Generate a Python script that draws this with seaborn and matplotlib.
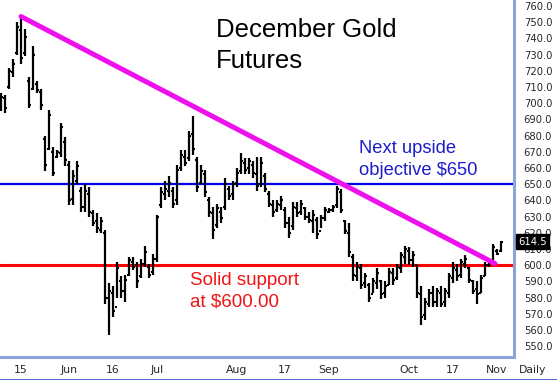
import numpy as np
import pandas as pd
import matplotlib
matplotlib.use("Agg")
import matplotlib.pyplot as plt
import seaborn as sns

# December gold futures, daily bars (May - Nov 2006)
holidays = ["2006-05-29", "2006-07-04", "2006-09-04"]

high = [706, 705, 722, 727, 750, 753, 746, 716, 735, 714, 709, 680, 696, 673, 671, 688,
        679, 664, 659, 664, 648, 650, 648, 634, 632, 630, 622, 589, 587, 602, 593, 594,
        605, 605, 602, 604, 612, 601, 607, 631, 648, 652, 655, 648, 662, 671, 671, 683,
        692, 667, 662, 659, 642, 636, 638, 636, 654, 649, 652, 660, 669, 666, 666, 664,
        667, 667, 657, 646, 640, 640, 643, 636, 630, 639, 639, 640, 636, 633, 634, 630,
        631, 636, 635, 637, 649, 647, 628, 626, 607, 602, 601, 595, 589, 592, 598, 591,
        590, 598, 598, 601, 608, 612, 611, 609, 600, 587, 580, 585, 587, 586, 587, 586,
        595, 602, 601, 604, 606, 599, 591, 590, 594, 602, 604, 613, 610, 615]
low = [695, 694, 709, 716, 730, 724, 729, 697, 708, 706, 696, 658, 671, 655, 666, 667,
       661, 637, 637, 650, 633, 633, 630, 624, 620, 620, 576, 557, 568, 580, 580, 577,
       593, 597, 586, 592, 599, 592, 594, 602, 635, 640, 642, 635, 637, 658, 661, 664,
       668, 645, 650, 642, 630, 616, 623, 626, 634, 640, 640, 648, 656, 656, 656, 654,
       646, 648, 645, 636, 630, 633, 634, 623, 617, 622, 630, 631, 628, 626, 620, 616,
       623, 627, 632, 633, 635, 632, 619, 605, 590, 590, 585, 586, 577, 583, 585, 579,
       580, 588, 588, 591, 595, 601, 600, 599, 580, 563, 566, 574, 574, 574, 574, 574,
       580, 589, 590, 592, 598, 589, 582, 576, 583, 593, 599, 601, 606, 608]
opens = [697, 703, 710, 719, 731, 745, 731, 714, 709, 712, 707, 678, 672, 670, 667, 669,
         676, 662, 641, 652, 646, 636, 644, 632, 627, 622, 620, 580, 583, 574, 590, 584,
         594, 602, 600, 593, 601, 599, 596, 604, 637, 644, 646, 646, 640, 660, 667, 666,
         681, 665, 651, 656, 640, 632, 625, 633, 636, 647, 644, 651, 658, 663, 660, 662,
         656, 650, 655, 644, 637, 634, 637, 634, 626, 624, 635, 633, 635, 630, 627, 628,
         621, 629, 633, 634, 637, 645, 627, 620, 605, 593, 598, 589, 588, 582, 589, 590,
         583, 588, 595, 592, 598, 605, 609, 603, 600, 582, 569, 576, 583, 577, 583, 577,
         583, 592, 597, 594, 601, 598, 590, 585, 583, 593, 600, 602, 609, 609]
close = [704, 697, 720, 724, 747, 728, 741, 699, 730, 708, 699, 662, 693, 657, 670, 685,
         665, 640, 655, 661, 636, 646, 633, 626, 623, 627, 580, 584, 572, 598, 584, 591,
         603, 599, 590, 601, 608, 594, 604, 630, 645, 647, 651, 638, 659, 668, 663, 680,
         672, 648, 658, 645, 633, 622, 635, 629, 650, 643, 650, 657, 664, 659, 664, 657,
         649, 663, 647, 638, 633, 638, 640, 626, 620, 636, 632, 638, 630, 628, 631, 619,
         629, 634, 634, 636, 647, 634, 621, 608, 594, 599, 588, 593, 580, 590, 595, 582,
         587, 596, 591, 599, 606, 610, 603, 606, 583, 568, 577, 583, 577, 584, 576, 584,
         593, 598, 593, 602, 604, 591, 584, 582, 592, 600, 602, 611, 607, 614.5]

tick_dates = ["2006-05-15", "2006-06-01", "2006-06-16", "2006-07-03", "2006-08-01",
              "2006-08-17", "2006-09-01", "2006-10-02", "2006-10-17", "2006-11-01"]
tick_labels = ["15", "Jun", "16", "Jul", "Aug", "17", "Sep", "Oct", "17", "Nov"]

support = 600.0
objective = 650.0
trend_idx = [5, 123.5]
trend_val = [753.5, 601.0]
last_price = 614.5

dates = pd.bdate_range("2006-05-08", "2006-11-02")
dates = dates[~dates.isin(pd.to_datetime(holidays))]
df = pd.DataFrame({"date": dates[:len(high)], "open": opens, "high": high,
                   "low": low, "close": close})
df["idx"] = np.arange(len(df))

sns.set_theme(style="white")
plt.rcParams["font.family"] = ["Liberation Sans", "DejaVu Sans"]

fig = plt.figure(figsize=(5.57, 3.80), dpi=100)
ax = fig.add_axes([0, 23 / 380, 514 / 557, 357 / 380])

# OHLC bars
ax.vlines(df["idx"], df["low"], df["high"], color="black", lw=1.6, zorder=3)
ax.hlines(df["open"], df["idx"] - 0.55, df["idx"], color="black", lw=1.5, zorder=3)
ax.hlines(df["close"], df["idx"], df["idx"] + 0.55, color="black", lw=1.5, zorder=3)

# support / objective lines and trendline
ax.axhline(objective, color="#0000ee", lw=1.6, zorder=2)
ax.axhline(support, color="#ff0000", lw=2.2, zorder=2)
sns.lineplot(x=trend_idx, y=trend_val, ax=ax, color="#ee11ee", lw=3.6, zorder=4)

ax.set_xlim(-0.25, 128.25)
ax.set_ylim(543.3, 763.7)

ax.yaxis.tick_right()
ax.set_yticks(np.arange(550, 761, 10))
ax.set_yticklabels([f"{v:.1f}" for v in np.arange(550, 761, 10)], fontsize=7.2,
                   family="DejaVu Sans")
tick_pos = [dates.get_loc(pd.Timestamp(d)) for d in tick_dates]
ax.set_xticks(tick_pos)
ax.set_xticklabels(tick_labels, fontsize=7.8, family="DejaVu Sans")
ax.tick_params(axis="both", length=0)
ax.tick_params(axis="y", pad=7)
ax.tick_params(axis="x", pad=6)
ax.set_xlabel("")
ax.set_ylabel("")

for side in ["top", "left"]:
    ax.spines[side].set_visible(False)
for side in ["right", "bottom"]:
    ax.spines[side].set_color("#8ea2d8")
    ax.spines[side].set_linewidth(2.2)

# last price badge
ax.text(1.008, last_price, f"{last_price:.1f}", transform=ax.get_yaxis_transform(),
        ha="left", va="center", color="white", fontsize=7.2, family="DejaVu Sans",
        bbox=dict(facecolor="black", edgecolor="black", pad=1.6), clip_on=False, zorder=6)

# annotations
W, H = 557, 380
fig.text(216 / W, 1 - 37 / H, "December Gold", fontsize=18.5, color="black", va="baseline")
fig.text(216 / W, 1 - 68 / H, "Futures", fontsize=18.5, color="black", va="baseline")
fig.text(359 / W, 1 - 153 / H, "Next upside", fontsize=13.2, color="#1c1ccc", va="baseline")
fig.text(359 / W, 1 - 175 / H, "objective $650", fontsize=13.2, color="#1c1ccc", va="baseline")
fig.text(190 / W, 1 - 285 / H, "Solid support", fontsize=13.5, color="#f01414", va="baseline")
fig.text(190 / W, 1 - 306 / H, "at $600.00", fontsize=13.5, color="#f01414", va="baseline")
fig.text(533 / W, 1 - 370 / H, "Daily", fontsize=7.8, family="DejaVu Sans",
         ha="center", va="center")

# bottom frame line
fig.add_artist(plt.Line2D([0, 1], [0.5 / H, 0.5 / H], color="#2a50c8", lw=1.2))

fig.savefig("out.png", dpi=100)
